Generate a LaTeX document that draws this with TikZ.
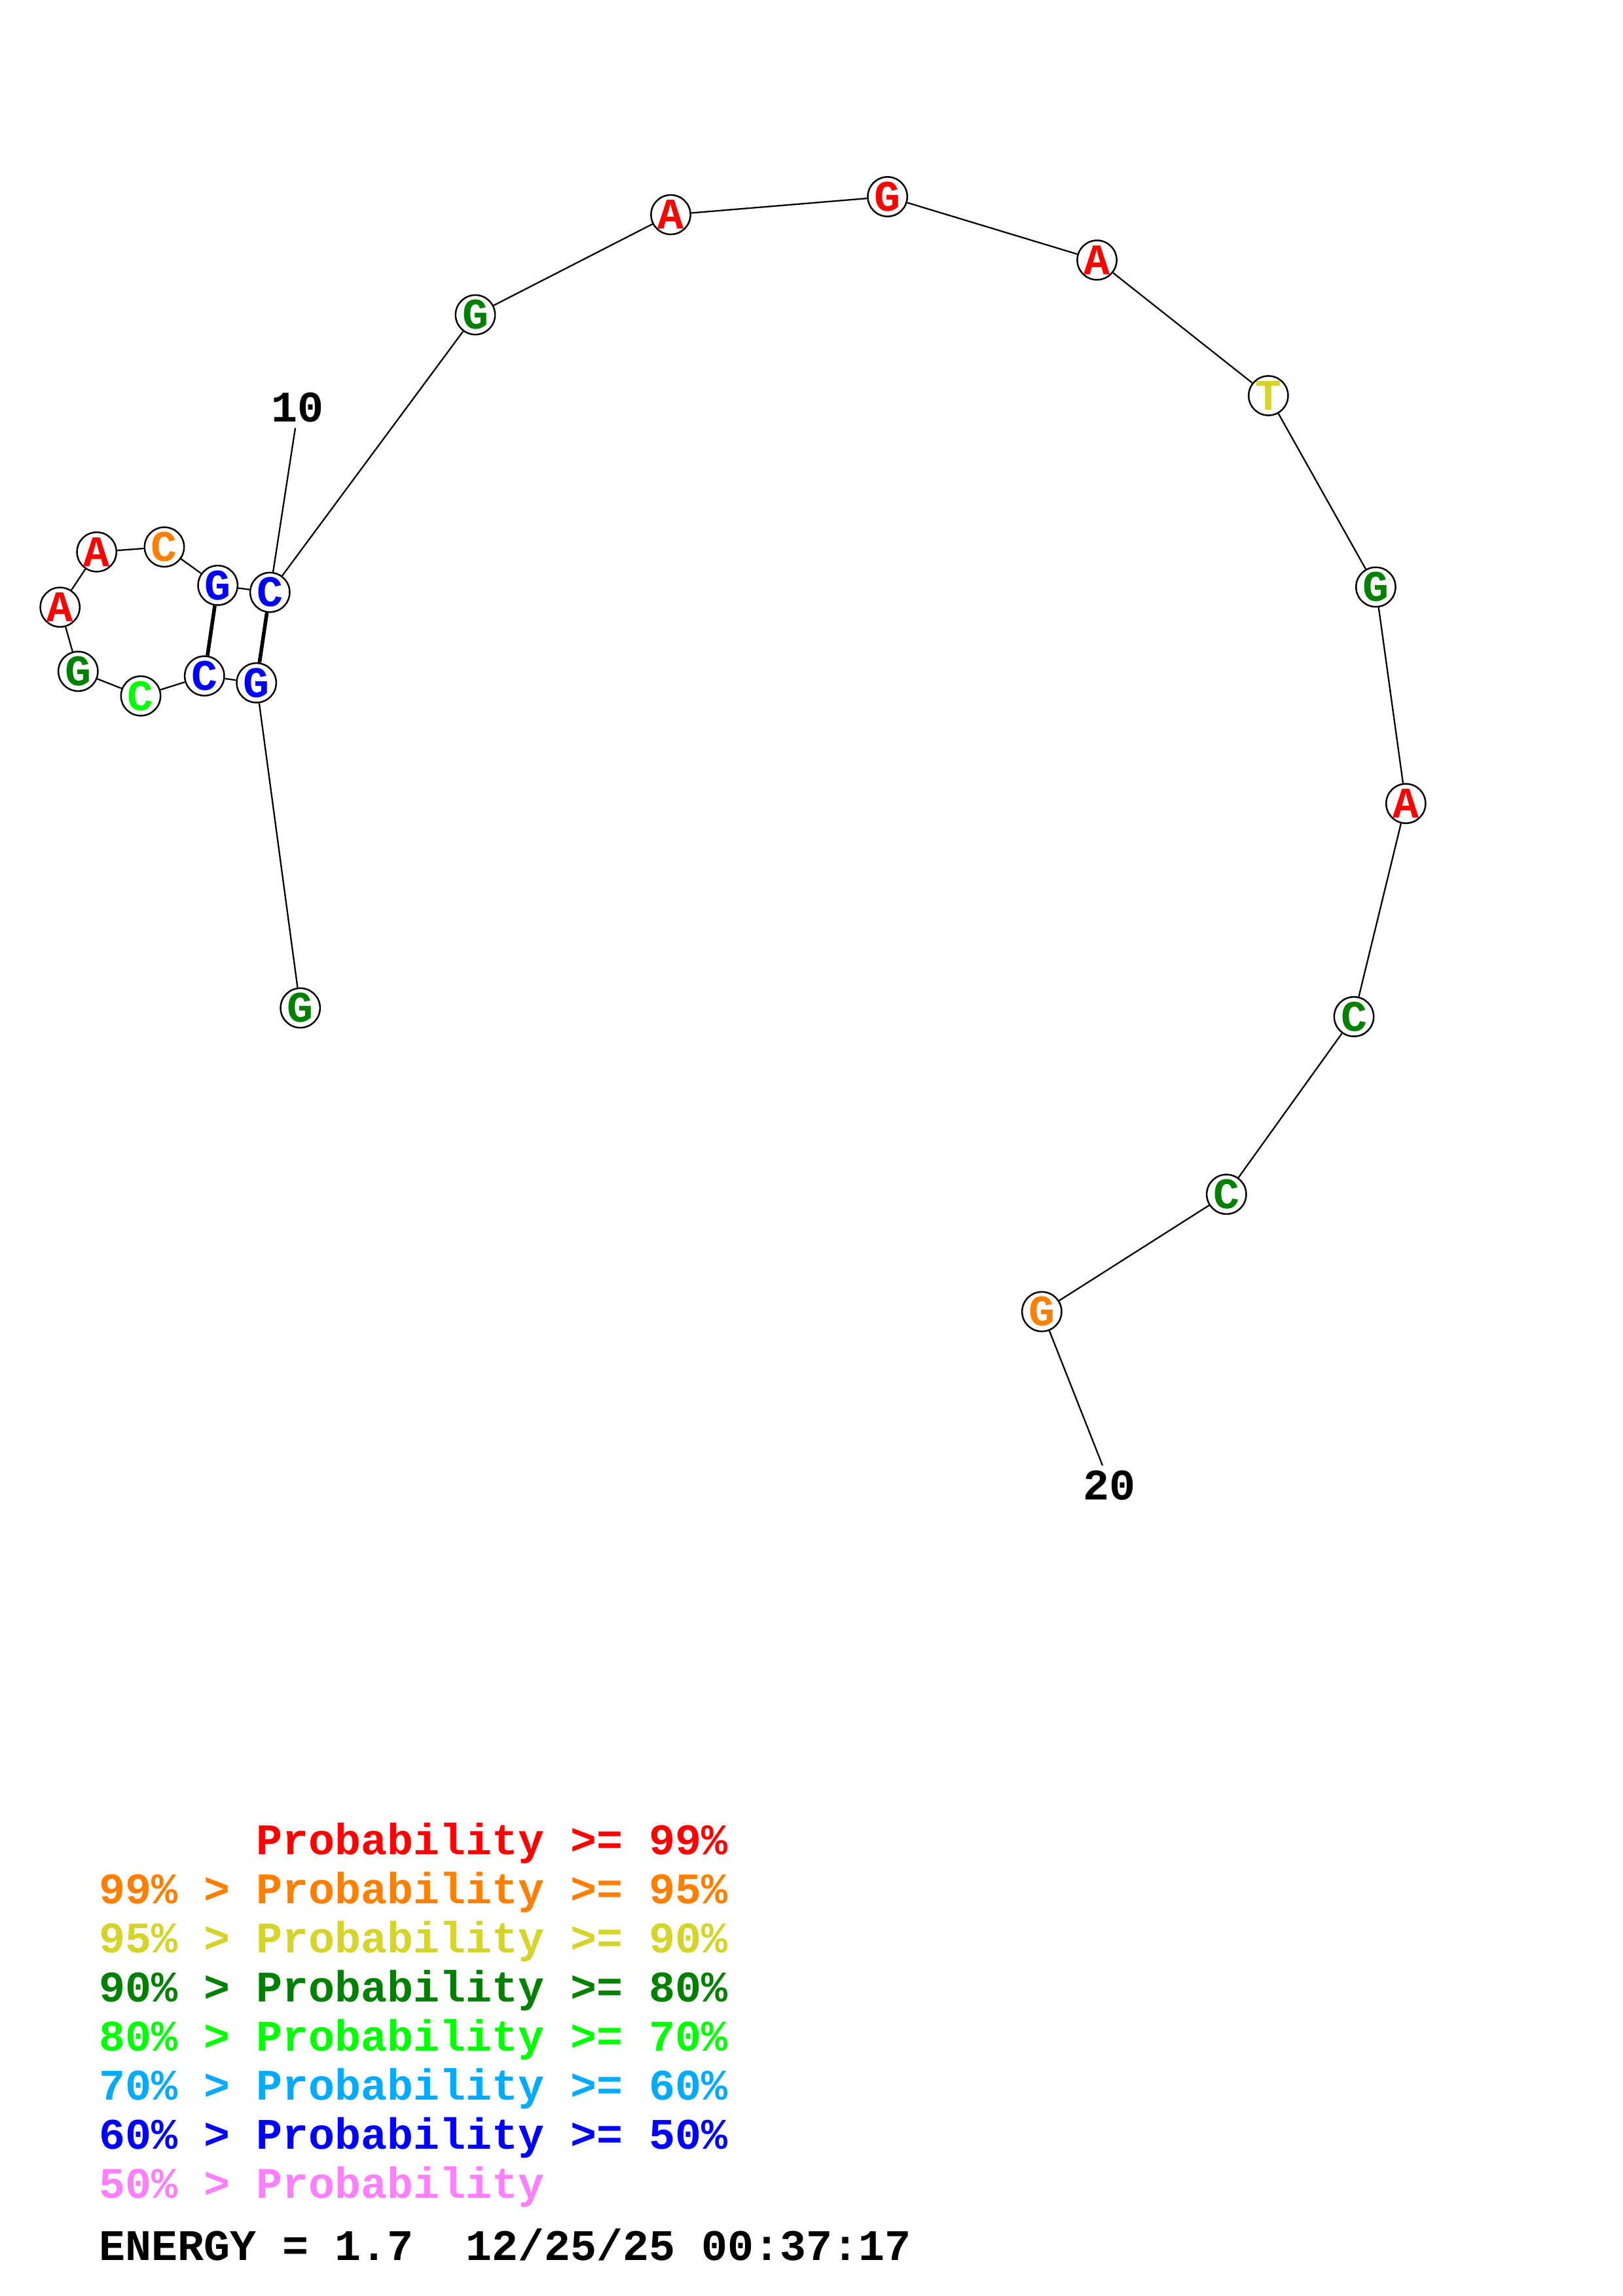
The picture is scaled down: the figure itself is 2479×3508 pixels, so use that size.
\documentclass[tikz,border=0pt]{standalone}
\usepackage{fontspec}
\setmonofont{Liberation Mono}
\usetikzlibrary{arrows}
\definecolor{pred}{RGB}{255,0,0}
\definecolor{porange}{RGB}{255,128,0}
\definecolor{pyellow}{RGB}{212,212,42}
\definecolor{pdkgreen}{RGB}{0,128,0}
\definecolor{pltgreen}{RGB}{0,255,0}
\definecolor{psky}{RGB}{0,170,255}
\definecolor{pblue}{RGB}{0,0,255}
\definecolor{ppink}{RGB}{255,128,255}
\begin{document}
\begin{tikzpicture}[x=0.0846667mm,y=-0.0846667mm,line width=0.55pt,
			font=\fontsize{16bp}{19bp}\selectfont\ttfamily\bfseries]
			\tikzstyle{nuc}=[circle,draw,fill=white,minimum size=14.5pt,inner sep=0pt,line width=0.6pt]
			\tikzstyle{pair}=[line width=1.35pt]
			\tikzstyle{legend}=[anchor=base west,inner sep=0pt]
			\useasboundingbox (0,0) rectangle (2479,3508);
			
			\node[nuc,text=pdkgreen] (g1)  at (458.7,1540)   {G};
			\node[nuc,text=pblue]    (g2)  at (391.7,1043.3) {G};
			\node[nuc,text=pblue]    (c3)  at (312.3,1032.7) {C};
			\node[nuc,text=pltgreen] (c4)  at (215,1063.3)   {C};
			\node[nuc,text=pdkgreen] (g5)  at (119.3,1025.7) {G};
			\node[nuc,text=pred]     (a6)  at (91.7,927.7)   {A};
			\node[nuc,text=pred]     (a7)  at (147.7,843.3)  {A};
			\node[nuc,text=porange]  (c8)  at (251,835.7)    {C};
			\node[nuc,text=pblue]    (g9)  at (332.7,894.3)  {G};
			\node[nuc,text=pblue]    (c10) at (412.3,905)    {C};
			\node[nuc,text=pdkgreen] (g11) at (726,481)      {G};
			\node[nuc,text=pred]     (a12) at (1024.5,328)   {A};
			\node[nuc,text=pred]     (g13) at (1355.6,300.5) {G};
			\node[nuc,text=pred]     (a14) at (1675.5,397.4) {A};
			\node[nuc,text=pyellow]  (t15) at (1937.3,604.5) {T};
			\node[nuc,text=pdkgreen] (g16) at (2101.4,896.9) {G};
			\node[nuc,text=pred]     (a17) at (2147.3,1227.7) {A};
			\node[nuc,text=pdkgreen] (c18) at (2068,1553.3)  {C};
			\node[nuc,text=pdkgreen] (c19) at (1873.3,1824.7) {C};
			\node[nuc,text=porange]  (g20) at (1591.3,2004)  {G};
			
			\node[anchor=base,inner sep=0pt] (lab10) at (455,644)    {10};
			\node[anchor=base,inner sep=0pt] (lab20) at (1694.5,2291) {20};
			\coordinate (tick10) at (451,654);
			\coordinate (tick20) at (1684,2239);
			
			\path (g1) edge (g2)
			(g2) edge (c3)
			(c3) edge (c4)
			(c4) edge (g5)
			(g5) edge (a6)
			(a6) edge (a7)
			(a7) edge (c8)
			(c8) edge (g9)
			(g9) edge (c10)
			(c10) edge (g11)
			(g11) edge (a12)
			(a12) edge (g13)
			(g13) edge (a14)
			(a14) edge (t15)
			(t15) edge (g16)
			(g16) edge (a17)
			(a17) edge (c18)
			(c18) edge (c19)
			(c19) edge (g20)
			(c10) edge (tick10)
			(g20) edge (tick20)
			(g2) edge [pair] (c10)
			(c3) edge [pair] (g9)
			;
			
			\node[legend,text=pred]     (l99) at (390,2833)  {Probability >= 99\%};
			\node[legend,text=porange]  (l95) at (150,2908)  {99\% > Probability >= 95\%};
			\node[legend,text=pyellow]  (l90) at (150,2983)  {95\% > Probability >= 90\%};
			\node[legend,text=pdkgreen] (l80) at (150,3058)  {90\% > Probability >= 80\%};
			\node[legend,text=pltgreen] (l70) at (150,3133)  {80\% > Probability >= 70\%};
			\node[legend,text=psky]     (l60) at (150,3208)  {70\% > Probability >= 60\%};
			\node[legend,text=pblue]    (l50) at (150,3283)  {60\% > Probability >= 50\%};
			\node[legend,text=ppink]    (l00) at (150,3358)  {50\% > Probability};
			\node[legend]               (energy) at (150,3453) {ENERGY = 1.7\ \ 12/25/25 00:37:17};
			\end{tikzpicture}
\end{document}
